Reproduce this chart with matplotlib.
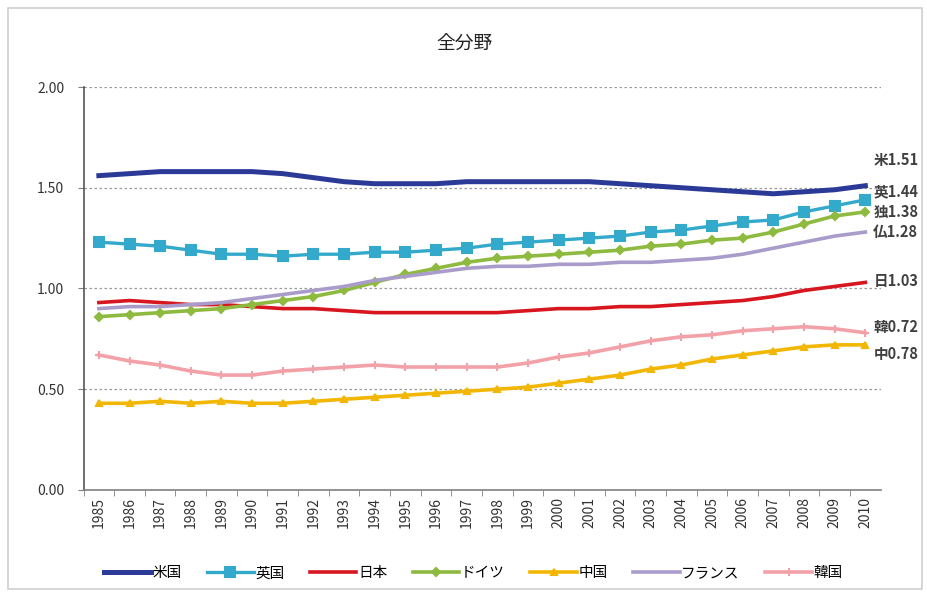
import matplotlib.pyplot as plt
from matplotlib.patches import Rectangle

plt.rcParams['font.family'] = ['Noto Sans CJK JP', 'DejaVu Sans']

years = list(range(1985, 2011))

# relative citation index by country, 1985-2010
usa = [1.56, 1.57, 1.58, 1.58, 1.58, 1.58, 1.57, 1.55, 1.53, 1.52, 1.52, 1.52, 1.53,
       1.53, 1.53, 1.53, 1.53, 1.52, 1.51, 1.50, 1.49, 1.48, 1.47, 1.48, 1.49, 1.51]
uk = [1.23, 1.22, 1.21, 1.19, 1.17, 1.17, 1.16, 1.17, 1.17, 1.18, 1.18, 1.19, 1.20,
      1.22, 1.23, 1.24, 1.25, 1.26, 1.28, 1.29, 1.31, 1.33, 1.34, 1.38, 1.41, 1.44]
japan = [0.93, 0.94, 0.93, 0.92, 0.92, 0.91, 0.90, 0.90, 0.89, 0.88, 0.88, 0.88, 0.88,
         0.88, 0.89, 0.90, 0.90, 0.91, 0.91, 0.92, 0.93, 0.94, 0.96, 0.99, 1.01, 1.03]
germany = [0.86, 0.87, 0.88, 0.89, 0.90, 0.92, 0.94, 0.96, 0.99, 1.03, 1.07, 1.10, 1.13,
           1.15, 1.16, 1.17, 1.18, 1.19, 1.21, 1.22, 1.24, 1.25, 1.28, 1.32, 1.36, 1.38]
china = [0.43, 0.43, 0.44, 0.43, 0.44, 0.43, 0.43, 0.44, 0.45, 0.46, 0.47, 0.48, 0.49,
         0.50, 0.51, 0.53, 0.55, 0.57, 0.60, 0.62, 0.65, 0.67, 0.69, 0.71, 0.72, 0.72]
france = [0.90, 0.91, 0.91, 0.92, 0.93, 0.95, 0.97, 0.99, 1.01, 1.04, 1.06, 1.08, 1.10,
          1.11, 1.11, 1.12, 1.12, 1.13, 1.13, 1.14, 1.15, 1.17, 1.20, 1.23, 1.26, 1.28]
korea = [0.67, 0.64, 0.62, 0.59, 0.57, 0.57, 0.59, 0.60, 0.61, 0.62, 0.61, 0.61, 0.61,
         0.61, 0.63, 0.66, 0.68, 0.71, 0.74, 0.76, 0.77, 0.79, 0.80, 0.81, 0.80, 0.78]

names = ['米国', '英国', '日本', 'ドイツ', '中国', 'フランス', '韓国']
end_labels = ['米1.51', '英1.44', '日1.03', '独1.38', '中0.78', '仏1.28', '韓0.72']
yticks = [0.0, 0.5, 1.0, 1.5, 2.0]

series = [usa, uk, japan, germany, china, france, korea]
colors = ['#2B3A96', '#33A9CB', '#D7161F', '#8DBA3F', '#F2B705', '#A99CCB', '#F2A1A8']
markers = [None, 's', None, 'D', '^', None, '+']
msizes = [0, 6.5, 0, 4, 4, 0, 5.5]
widths = [3.6, 2.4, 2.6, 2.6, 2.6, 2.6, 2.6]
# label offsets in pixels so the end labels don't collide
label_dy = [26, 8, 1, 0, -9, 0, 6]

fig = plt.figure(figsize=(9.28, 5.96), dpi=100)
fig.patches.append(Rectangle((0.009, 0.012), 0.985, 0.975, transform=fig.transFigure,
                             fill=False, edgecolor='#cfcfcf', linewidth=1.2))
ax = fig.add_axes([0.09, 0.178, 0.859, 0.676])

handles = []
for vals, c, m, ms, lw, name in zip(series, colors, markers, msizes, widths, names):
    h, = ax.plot(years, vals, color=c, lw=lw, marker=m, markersize=ms,
                 markeredgecolor=c, markeredgewidth=1.5, label=name, zorder=3)
    handles.append(h)

for vals, lab, dy in zip(series, end_labels, label_dy):
    ax.annotate(lab, xy=(years[-1], vals[-1]), xytext=(8, dy),
                textcoords='offset pixels', va='center', ha='left',
                fontsize=10.5, fontweight='bold', color='#404040',
                annotation_clip=False)

ax.set_xlim(1984.5, 2010.5)
ax.set_ylim(0, 2.0)
ax.set_yticks(yticks)
ax.set_yticklabels([f'{v:.2f}' for v in yticks], fontsize=10, color='#333333')
ax.set_xticks(years)
ax.set_xticklabels([str(y) for y in years], rotation=90, fontsize=10, color='#333333')
ax.set_xticks([y + 0.5 for y in years[:-1]] + [1984.5], minor=True)
ax.tick_params(axis='x', which='major', length=0, pad=5)
ax.tick_params(axis='x', which='minor', length=4, color='#808080')
ax.tick_params(axis='y', length=4, color='#808080', pad=10)
ax.grid(axis='y', linestyle=(0, (2, 2)), color='#9a9a9a', lw=0.9)
ax.set_axisbelow(True)
for side in ['top', 'right']:
    ax.spines[side].set_visible(False)
ax.spines['left'].set_color('#555555')
ax.spines['bottom'].set_color('#808080')
ax.spines['left'].set_linewidth(1.2)
ax.spines['bottom'].set_linewidth(1.2)

fig.text(0.5, 0.925, '全分野', ha='center', va='center', fontsize=13.5, color='#222222')

fig.legend(handles=handles, loc='center', bbox_to_anchor=(0.51, 0.038), ncol=7,
           frameon=False, fontsize=10.5, handlelength=3.2, handletextpad=0.1,
           columnspacing=1.75)

fig.savefig('out.png', dpi=100, facecolor='white')
